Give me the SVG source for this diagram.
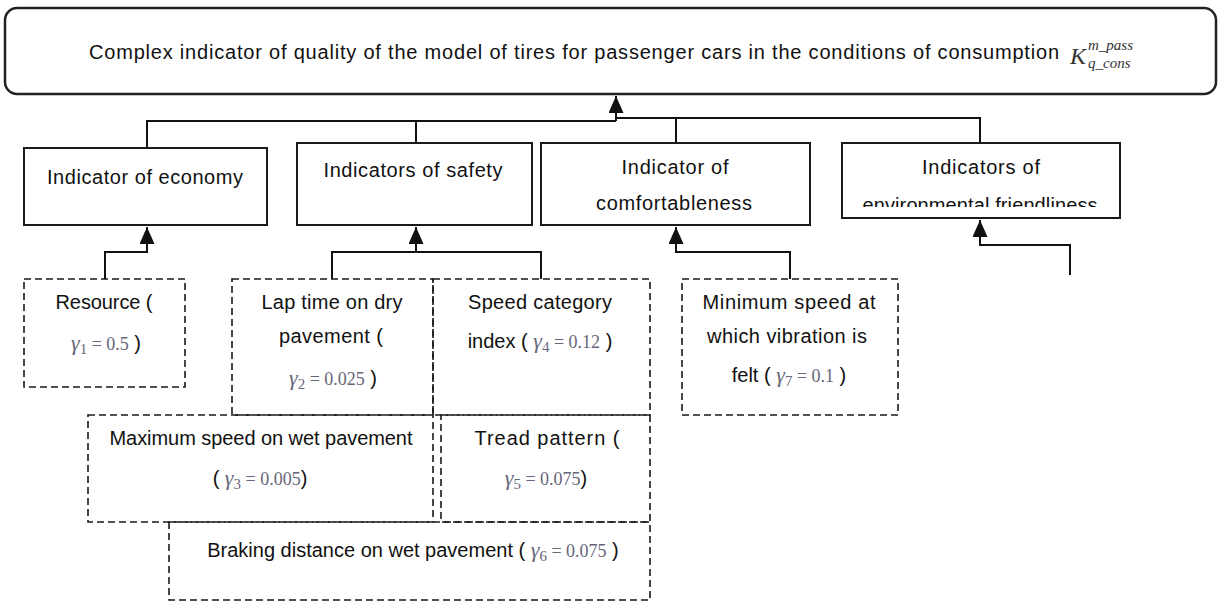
<svg xmlns="http://www.w3.org/2000/svg" width="1219" height="603" viewBox="0 0 1219 603">
<style>
.box{fill:#fff;stroke:#1a1a1a;stroke-width:2}
.dbox{fill:none;stroke:#1a1a1a;stroke-width:1.6;stroke-dasharray:7 4}
.lbl{font-family:"Liberation Sans",Arial,sans-serif;font-size:20px;fill:#111;text-anchor:middle}
.m{font-family:"Liberation Serif","Times New Roman",serif;fill:#66667a}
.mi{font-style:italic}
.g{font-size:22px}
.s{font-size:15px}
.n{font-size:18px}
.conn{fill:none;stroke:#111;stroke-width:2}
</style>
<defs>
<marker id="ah" markerUnits="userSpaceOnUse" markerWidth="17" markerHeight="15" refX="17" refY="7.5" orient="auto"><path d="M0,0 L17,7.5 L0,15 z" fill="#111"/></marker>
<clipPath id="envclip"><rect x="842" y="143" width="278" height="64"/></clipPath>
</defs>
<rect width="1219" height="603" fill="#fff"/>

<g id="connectors">
<path class="conn" d="M616,121 V96" marker-end="url(#ah)"/>
<path class="conn" d="M147,148 V121 H616"/>
<path class="conn" d="M416,143 V121"/>
<path class="conn" d="M616,118 H980 V143"/>
<path class="conn" d="M676,143 V118"/>
<path class="conn" d="M105,279 V252 H147 V227" marker-end="url(#ah)"/>
<path class="conn" d="M332,279 V252 H541 V279"/>
<path class="conn" d="M416,252 V227" marker-end="url(#ah)"/>
<path class="conn" d="M790,279 V252 H676 V227" marker-end="url(#ah)"/>
<path class="conn" d="M1070,275 V245 H980 V220" marker-end="url(#ah)"/>
</g>

<g id="title">
<rect x="5" y="8" width="1211" height="86" rx="12" fill="#fff" stroke="#222" stroke-width="2.5"/>
<text x="89" y="59" font-family="Liberation Sans,Arial,sans-serif" font-size="20" fill="#111" textLength="970" lengthAdjust="spacing">Complex indicator of quality of the model of tires for passenger cars in the conditions of consumption</text>
<text x="1070" y="64" font-family="Liberation Serif,Times New Roman,serif" font-style="italic" font-size="24" fill="#333">K</text>
<text x="1088" y="50" font-family="Liberation Serif,Times New Roman,serif" font-style="italic" font-size="15" fill="#333">m_pass</text>
<text x="1088" y="68" font-family="Liberation Serif,Times New Roman,serif" font-style="italic" font-size="15" fill="#333">q_cons</text>
</g>

<g id="economy">
<rect class="box" x="24" y="148" width="243" height="77"/>
<text class="lbl" x="145" y="184" textLength="196" lengthAdjust="spacing">Indicator of economy</text>
</g>
<g id="safety">
<rect class="box" x="297" y="143" width="235" height="82"/>
<text class="lbl" x="413" y="177" textLength="179" lengthAdjust="spacing">Indicators of safety</text>
</g>
<g id="comfort">
<rect class="box" x="541" y="143" width="269" height="82"/>
<text class="lbl" x="675" y="174" textLength="107" lengthAdjust="spacing">Indicator of</text>
<text class="lbl" x="674" y="210" textLength="156" lengthAdjust="spacing">comfortableness</text>
</g>
<g id="environment">
<rect class="box" x="842" y="143" width="278" height="75"/>
<text class="lbl" x="981" y="174" textLength="118" lengthAdjust="spacing">Indicators of</text>
<text class="lbl" x="980" y="212" textLength="235" lengthAdjust="spacing" clip-path="url(#envclip)">environmental friendliness</text>
</g>

<g id="resource">
<rect class="dbox" x="24" y="279" width="161" height="108"/>
<text class="lbl" x="104" y="309" textLength="97" lengthAdjust="spacing">Resource (</text>
<text class="lbl" x="106" y="350"><tspan class="m mi g">γ</tspan><tspan class="m s" dy="4">1</tspan><tspan class="m n" dy="-4"> = 0.5</tspan><tspan> )</tspan></text>
</g>
<g id="laptime">
<rect class="dbox" x="232" y="279" width="201" height="136"/>
<text class="lbl" x="332" y="309" textLength="141" lengthAdjust="spacing">Lap time on dry</text>
<text class="lbl" x="331" y="343" textLength="104" lengthAdjust="spacing">pavement (</text>
<text class="lbl" x="333" y="385"><tspan class="m mi g">γ</tspan><tspan class="m s" dy="4">2</tspan><tspan class="m n" dy="-4"> = 0.025</tspan><tspan>  )</tspan></text>
</g>
<g id="speedcat">
<rect class="dbox" x="433" y="279" width="217" height="136"/>
<text class="lbl" x="540" y="309" textLength="144" lengthAdjust="spacing">Speed category</text>
<text class="lbl" x="540" y="348"><tspan>index ( </tspan><tspan class="m mi g">γ</tspan><tspan class="m s" dy="4">4</tspan><tspan class="m n" dy="-4"> = 0.12</tspan><tspan>  )</tspan></text>
</g>
<g id="vibration">
<rect class="dbox" x="682" y="279" width="216" height="136"/>
<text class="lbl" x="789" y="309" textLength="173" lengthAdjust="spacing">Minimum speed at</text>
<text class="lbl" x="787" y="343" textLength="160" lengthAdjust="spacing">which vibration is</text>
<text class="lbl" x="789" y="382"><tspan>felt ( </tspan><tspan class="m mi g">γ</tspan><tspan class="m s" dy="4">7</tspan><tspan class="m n" dy="-4"> = 0.1</tspan><tspan> )</tspan></text>
</g>
<g id="maxspeed">
<rect class="dbox" x="88" y="415" width="345" height="107"/>
<text class="lbl" x="261" y="445" textLength="303" lengthAdjust="spacing">Maximum speed on wet pavement</text>
<text class="lbl" x="260" y="485"><tspan>( </tspan><tspan class="m mi g">γ</tspan><tspan class="m s" dy="4">3</tspan><tspan class="m n" dy="-4"> = 0.005</tspan><tspan>)</tspan></text>
</g>
<g id="tread">
<rect class="dbox" x="441" y="415" width="209" height="107"/>
<text class="lbl" x="547" y="445" textLength="145" lengthAdjust="spacing">Tread pattern (</text>
<text class="lbl" x="546" y="485"><tspan class="m mi g">γ</tspan><tspan class="m s" dy="4">5</tspan><tspan class="m n" dy="-4"> = 0.075</tspan><tspan>)</tspan></text>
</g>
<g id="braking">
<rect class="dbox" x="169" y="522" width="481" height="78"/>
<text class="lbl" x="413" y="557"><tspan>Braking distance on wet pavement ( </tspan><tspan class="m mi g">γ</tspan><tspan class="m s" dy="4">6</tspan><tspan class="m n" dy="-4"> = 0.075</tspan><tspan> )</tspan></text>
</g>
</svg>
